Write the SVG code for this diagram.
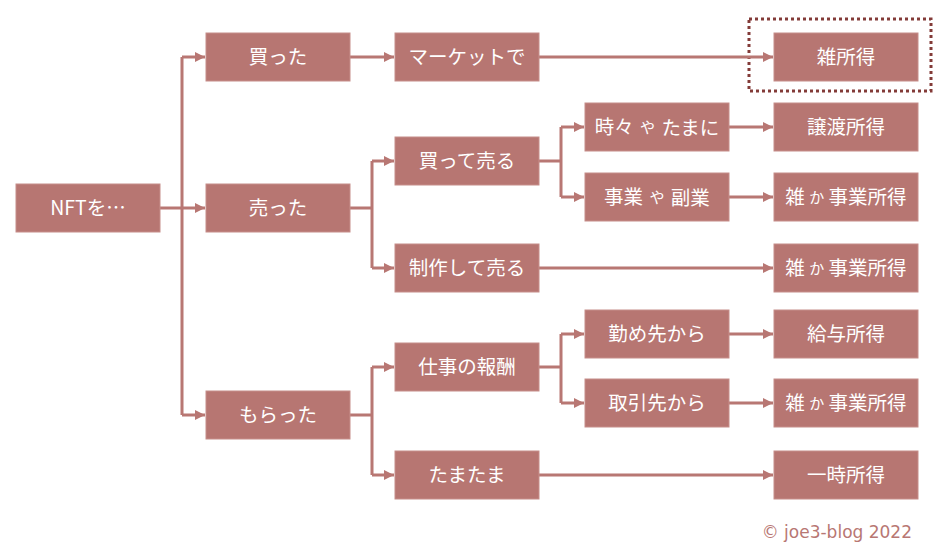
<svg xmlns="http://www.w3.org/2000/svg" width="950" height="558" viewBox="0 0 950 558">
<style>
.n rect{fill:#B77672;stroke:#C68E8A;stroke-width:1}
.n text{fill:#FFFFFF;font-family:"Noto Sans CJK JP","Noto Sans",sans-serif;font-size:19.5px;text-anchor:middle;dominant-baseline:central}
.n tspan.s{font-size:15px}
.c path{fill:none;stroke:#B87773;stroke-width:3}
</style>
<defs>
<marker id="ah" viewBox="0 0 10 10" refX="10" refY="5" markerWidth="10" markerHeight="10" markerUnits="userSpaceOnUse" orient="auto">
<path d="M0,0 L10,5 L0,10 Z" fill="#B87773"/>
</marker>
</defs>
<rect x="749" y="19" width="182" height="72" fill="none" stroke="#833B38" stroke-width="3" stroke-dasharray="3 3"/>
<g class="c">
<path d="M160,208 H182"/>
<path d="M182,57 V415"/>
<path d="M182,57 H205" marker-end="url(#ah)"/>
<path d="M182,208 H205" marker-end="url(#ah)"/>
<path d="M182,415 H205" marker-end="url(#ah)"/>
<path d="M350,57 H394" marker-end="url(#ah)"/>
<path d="M539,57 H773" marker-end="url(#ah)"/>
<path d="M350,208 H372 M372,161 V268"/>
<path d="M372,161 H394" marker-end="url(#ah)"/>
<path d="M372,268 H394" marker-end="url(#ah)"/>
<path d="M539,161 H561 M561,127 V197"/>
<path d="M561,127 H584" marker-end="url(#ah)"/>
<path d="M561,197 H584" marker-end="url(#ah)"/>
<path d="M729,127 H773" marker-end="url(#ah)"/>
<path d="M729,197 H773" marker-end="url(#ah)"/>
<path d="M539,268 H773" marker-end="url(#ah)"/>
<path d="M350,415 H372 M372,367 V475"/>
<path d="M372,367 H394" marker-end="url(#ah)"/>
<path d="M372,475 H394" marker-end="url(#ah)"/>
<path d="M539,367 H561 M561,334 V403"/>
<path d="M561,334 H584" marker-end="url(#ah)"/>
<path d="M561,403 H584" marker-end="url(#ah)"/>
<path d="M729,334 H773" marker-end="url(#ah)"/>
<path d="M729,403 H773" marker-end="url(#ah)"/>
<path d="M539,475 H773" marker-end="url(#ah)"/>
</g>
<g id="nft" class="n"><rect x="16" y="184" width="144" height="48"/><text x="88" y="206.5">NFTを…</text></g>
<g id="katta" class="n"><rect x="206" y="33" width="144" height="48"/><text x="278" y="55.5">買った</text></g>
<g id="utta" class="n"><rect x="206" y="184" width="144" height="48"/><text x="278" y="206.5">売った</text></g>
<g id="moratta" class="n"><rect x="206" y="391" width="144" height="48"/><text x="278" y="413.5">もらった</text></g>
<g id="market" class="n"><rect x="395" y="33" width="144" height="48"/><text x="467" y="55.5">マーケットで</text></g>
<g id="kattauru" class="n"><rect x="395" y="137" width="144" height="48"/><text x="467" y="159.5">買って売る</text></g>
<g id="seisaku" class="n"><rect x="395" y="244" width="144" height="48"/><text x="467" y="266.5">制作して売る</text></g>
<g id="shigoto" class="n"><rect x="395" y="343" width="144" height="48"/><text x="467" y="365.5">仕事の報酬</text></g>
<g id="tamatama" class="n"><rect x="395" y="451" width="144" height="48"/><text x="467" y="473.5">たまたま</text></g>
<g id="tokidoki" class="n"><rect x="585" y="103" width="144" height="48"/><text x="657" y="125.5">時々 <tspan class="s" dx="2">や</tspan><tspan dx="2"> たまに</tspan></text></g>
<g id="jigyo" class="n"><rect x="585" y="173" width="144" height="48"/><text x="657" y="195.5">事業 <tspan class="s" dx="2">や</tspan><tspan dx="2"> 副業</tspan></text></g>
<g id="tsutome" class="n"><rect x="585" y="310" width="144" height="48"/><text x="657" y="332.5">勤め先から</text></g>
<g id="torihiki" class="n"><rect x="585" y="379" width="144" height="48"/><text x="657" y="401.5">取引先から</text></g>
<g id="zatsu" class="n"><rect x="774" y="33" width="144" height="48"/><text x="846" y="55.5">雑所得</text></g>
<g id="joto" class="n"><rect x="774" y="103" width="144" height="48"/><text x="846" y="125.5">譲渡所得</text></g>
<g id="zj1" class="n"><rect x="774" y="173" width="144" height="48"/><text x="846" y="195.5">雑 <tspan class="s">か</tspan> 事業所得</text></g>
<g id="zj2" class="n"><rect x="774" y="244" width="144" height="48"/><text x="846" y="266.5">雑 <tspan class="s">か</tspan> 事業所得</text></g>
<g id="kyuyo" class="n"><rect x="774" y="310" width="144" height="48"/><text x="846" y="332.5">給与所得</text></g>
<g id="zj3" class="n"><rect x="774" y="379" width="144" height="48"/><text x="846" y="401.5">雑 <tspan class="s">か</tspan> 事業所得</text></g>
<g id="ichiji" class="n"><rect x="774" y="451" width="144" height="48"/><text x="846" y="473.5">一時所得</text></g>
<text x="912" y="538" text-anchor="end" fill="#B87773" font-family="'DejaVu Sans','Noto Sans',sans-serif" font-size="17">© joe3-blog 2022</text>
</svg>
